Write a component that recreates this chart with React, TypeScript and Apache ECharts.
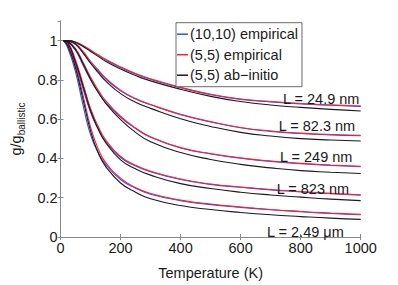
import React, { useEffect, useRef } from "react";
import * as echarts from "echarts";

const tempK = [10, 25, 50, 75, 100, 125, 150, 200, 250, 300, 400, 500, 600, 700, 800, 900, 1000];

// L = 24.9 nm
const blue249nmA = [1.0, 1.0, 0.992, 0.973, 0.949, 0.925, 0.902, 0.863, 0.83, 0.803, 0.76, 0.725, 0.701, 0.688, 0.678, 0.671, 0.665];
const red249nmA = [1.0, 1.0, 0.993, 0.975, 0.952, 0.928, 0.905, 0.866, 0.833, 0.806, 0.762, 0.727, 0.703, 0.69, 0.68, 0.673, 0.667];
const black249nmA = [1.0, 1.0, 0.991, 0.97, 0.945, 0.92, 0.895, 0.855, 0.822, 0.795, 0.752, 0.716, 0.69, 0.672, 0.66, 0.65, 0.642];
// L = 82.3 nm
const blue823nmA = [1.0, 0.997, 0.98, 0.937, 0.887, 0.845, 0.805, 0.745, 0.703, 0.673, 0.623, 0.586, 0.556, 0.538, 0.527, 0.52, 0.516];
const red823nmA = [1.0, 0.998, 0.985, 0.945, 0.895, 0.852, 0.81, 0.748, 0.705, 0.675, 0.625, 0.588, 0.558, 0.54, 0.529, 0.522, 0.518];
const black823nmA = [1.0, 0.997, 0.982, 0.938, 0.885, 0.838, 0.795, 0.73, 0.686, 0.655, 0.602, 0.563, 0.533, 0.514, 0.501, 0.494, 0.489];
// L = 249 nm
const blue249nm = [1.0, 0.992, 0.95, 0.875, 0.8, 0.738, 0.686, 0.61, 0.552, 0.508, 0.453, 0.423, 0.401, 0.385, 0.373, 0.365, 0.358];
const red249nm = [1.0, 0.995, 0.96, 0.89, 0.815, 0.75, 0.695, 0.615, 0.555, 0.51, 0.455, 0.425, 0.403, 0.387, 0.375, 0.367, 0.36];
const black249nm = [1.0, 0.994, 0.955, 0.882, 0.805, 0.738, 0.682, 0.598, 0.533, 0.485, 0.43, 0.395, 0.37, 0.352, 0.338, 0.33, 0.323];
// L = 823 nm
const blue823nm = [1.0, 0.985, 0.88, 0.755, 0.635, 0.55, 0.485, 0.405, 0.362, 0.332, 0.293, 0.268, 0.253, 0.24, 0.23, 0.22, 0.213];
const red823nm = [1.0, 0.99, 0.9, 0.78, 0.655, 0.565, 0.495, 0.41, 0.365, 0.335, 0.295, 0.27, 0.255, 0.242, 0.232, 0.222, 0.215];
const black823nm = [1.0, 0.987, 0.89, 0.768, 0.643, 0.552, 0.482, 0.393, 0.347, 0.315, 0.272, 0.247, 0.228, 0.214, 0.203, 0.193, 0.185];
// L = 2.49 um
const blue249um = [1.0, 0.96, 0.84, 0.67, 0.52, 0.43, 0.37, 0.293, 0.248, 0.218, 0.185, 0.165, 0.151, 0.139, 0.129, 0.12, 0.113];
const red249um = [1.0, 0.975, 0.87, 0.72, 0.56, 0.45, 0.38, 0.3, 0.252, 0.222, 0.188, 0.168, 0.153, 0.14, 0.13, 0.122, 0.115];
const black249um = [1.0, 0.97, 0.86, 0.7, 0.54, 0.43, 0.36, 0.275, 0.228, 0.195, 0.16, 0.14, 0.125, 0.113, 0.104, 0.096, 0.09];

const legendNames = ["(10,10) empirical", "(5,5) empirical", "(5,5) ab\u2212initio"];
const lengthLabels = ["L = 24.9 nm", "L = 82.3 nm", "L = 249 nm", "L = 823 nm", "L = 2.49 \u03bcm"];
const xTicks = { min: 0, max: 1000, interval: 200 };
const yTicks = { min: 0, max: 1.1, interval: 0.2 };

const groups = [
  [blue249nmA, red249nmA, black249nmA],
  [blue823nmA, red823nmA, black823nmA],
  [blue249nm, red249nm, black249nm],
  [blue823nm, red823nm, black823nm],
  [blue249um, red249um, black249um],
];

const colors = ["#2f4dff", "#ff2222", "#1a1a1a"];
const FONT = "'Liberation Sans', Arial, Helvetica, sans-serif";

export default function App() {
  const ref = useRef<HTMLDivElement>(null);
  useEffect(() => {
    if (!ref.current) return;
    const chart = echarts.init(ref.current, undefined, { renderer: "svg" });
    const series: any[] = [];
    for (let k = 0; k < 3; k++) {
      groups.forEach((g) => {
        series.push({
          type: "line",
          name: legendNames[k],
          data: tempK.map((t, i) => [t, g[k][i]]),
          showSymbol: false,
          smooth: 0.5,
          lineStyle: { color: colors[k], width: 1.1 },
          itemStyle: { color: colors[k] },
          z: 2 + k,
        });
      });
    }
    const axisLine = { show: true, lineStyle: { color: "#8a8a8a", width: 1 } };
    const axisTick = { show: true, inside: true, length: 3, lineStyle: { color: "#8a8a8a" } };
    const labelStyle = { color: "#1a1a1a", fontSize: 14.5, fontFamily: FONT };
    const labelPos = [
      [283, 98.7],
      [278.7, 125.7],
      [280, 156.7],
      [276.7, 189],
      [267, 231.7],
    ];
    chart.setOption({
      animation: false,
      backgroundColor: "#ffffff",
      grid: { left: 51, right: 37.3, top: 21, bottom: 46.3, containLabel: false },
      legend: {
        data: legendNames,
        orient: "vertical",
        left: 176,
        top: 22.7,
        width: 124,
        padding: [3, 2, 3, 1],
        itemGap: 3.5,
        itemWidth: 11,
        itemHeight: 1.5,
        icon: "rect",
        backgroundColor: "#ffffff",
        borderColor: "#444",
        borderWidth: 0.8,
        borderRadius: 0,
        textStyle: { color: "#1a1a1a", fontSize: 14.5, fontFamily: FONT, lineHeight: 17, padding: [0, 2, 0, -3] },
      },
      xAxis: [
        {
          type: "value",
          ...xTicks,
          axisLine,
          axisTick,
          splitLine: { show: false },
          axisLabel: { ...labelStyle, margin: 3, formatter: (v: number) => String(v) },
          name: "Temperature (K)",
          nameLocation: "middle",
          nameGap: 28,
          nameTextStyle: { ...labelStyle },
        },
        {
          type: "value",
          position: "top",
          ...xTicks,
          axisLine,
          axisTick,
          splitLine: { show: false },
          axisLabel: { show: false },
        },
      ],
      yAxis: [
        {
          type: "value",
          ...yTicks,
          axisLine,
          axisTick,
          splitLine: { show: false },
          axisLabel: {
            ...labelStyle,
            margin: 3,
            showMaxLabel: false,
            formatter: (v: number) => (v > 1.05 ? "" : String(Math.round(v * 10) / 10)),
          },
          name: "{a|g/g}{b|ballistic}",
          nameLocation: "middle",
          nameRotate: 90,
          nameGap: 28,
          nameTextStyle: {
            rich: {
              a: { fontSize: 14.5, fontFamily: FONT, color: "#1a1a1a", lineHeight: 22, verticalAlign: "middle" },
              b: { fontSize: 10, fontFamily: FONT, color: "#1a1a1a", lineHeight: 10, verticalAlign: "bottom" },
            },
          },
        },
        {
          type: "value",
          position: "right",
          ...yTicks,
          axisLine,
          axisTick,
          splitLine: { show: false },
          axisLabel: { show: false },
        },
      ],
      graphic: lengthLabels.map((t, i) => ({
        type: "text",
        x: labelPos[i][0],
        y: labelPos[i][1],
        z: 100,
        style: {
          text: t,
          fill: "#1a1a1a",
          font: `14.5px ${FONT}`,
          align: "left",
          verticalAlign: "middle",
        },
      })),
      series,
    });
    return () => chart.dispose();
  }, []);
  return <div ref={ref} style={{ width: 398, height: 285, position: "absolute", left: 0, top: 0 }} />;
}
